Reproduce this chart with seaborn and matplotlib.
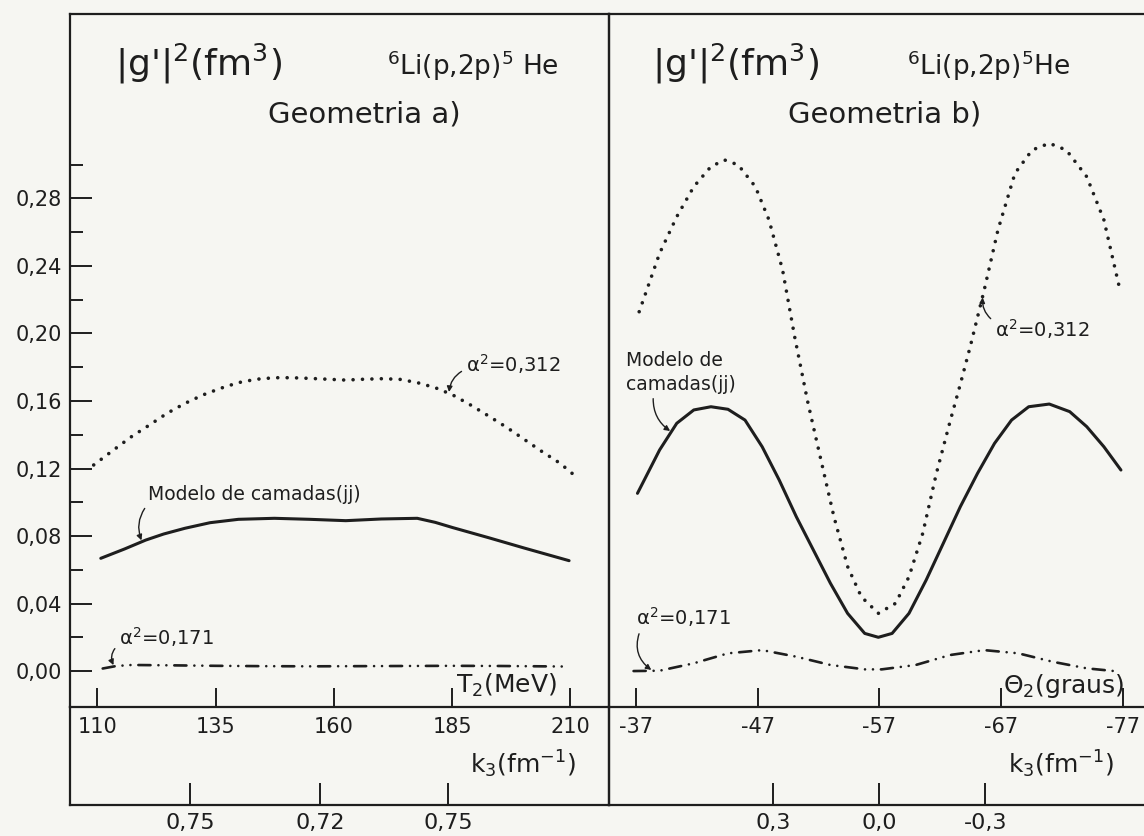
import numpy as np
import pandas as pd
import matplotlib
matplotlib.use("Agg")
import matplotlib.pyplot as plt
import seaborn as sns

# ---------------- data ----------------
# Geometria a) : abscissa T2 (MeV)
t2_dot_a = [109.2, 113.4, 117.2, 121.0, 124.7, 128.5, 132.3, 136.0, 139.8, 143.6, 147.4, 151.1,
            154.9, 158.7, 162.5, 166.3, 170.0, 173.8, 177.6, 181.4, 185.1, 188.9, 192.7, 196.5,
            200.2, 204.0, 207.8, 211.2]
g2_dot_a = [0.1221, 0.1310, 0.1389, 0.1458, 0.1527, 0.1586, 0.1636, 0.1675, 0.1709, 0.1729, 0.1738,
            0.1738, 0.1734, 0.1729, 0.1724, 0.1729, 0.1732, 0.1729, 0.1709, 0.1679, 0.1636, 0.1576,
            0.1511, 0.1444, 0.1373, 0.1300, 0.1231, 0.1151]

t2_solid_a = [110.7, 115.7, 120.2, 124.0, 128.5, 133.8, 139.8, 147.4, 154.9, 162.5, 170.0, 177.6,
              181.4, 185.1, 192.7, 200.2, 209.7]
g2_solid_a = [0.0668, 0.0723, 0.0776, 0.0812, 0.0846, 0.0879, 0.0899, 0.0905, 0.0899, 0.0891,
              0.0901, 0.0905, 0.0881, 0.0850, 0.0790, 0.0729, 0.0654]

t2_dd_a = [111.1, 114.0, 117.2, 125.0, 135.0, 145.0, 155.0, 165.0, 175.0, 185.0, 195.0, 208.5]
g2_dd_a = [0.0015, 0.0030, 0.0036, 0.0034, 0.0031, 0.0029, 0.0028, 0.0029, 0.0030, 0.0031,
           0.0030, 0.0027]

# Geometria b) : abscissa Theta2 (graus)
th_dot_b = [-37.26, -38.94, -40.35, -41.75, -43.16, -44.28, -45.40, -46.81, -47.93, -49.05, -50.04,
            -51.10, -52.14, -53.27, -54.40, -55.52, -56.92, -58.33, -59.44, -60.57, -61.69, -62.82,
            -63.66, -64.50, -65.63, -66.75, -68.15, -69.56, -70.97, -72.37, -74.05, -75.46, -76.72]
g2_dot_b = [0.2129, 0.2475, 0.2692, 0.2870, 0.2989, 0.3028, 0.2999, 0.2870, 0.2673, 0.2376, 0.1981,
            0.1600, 0.1270, 0.0914, 0.0618, 0.0440, 0.0342, 0.0401, 0.0559, 0.0816, 0.1171, 0.1480,
            0.1700, 0.1930, 0.2260, 0.2613, 0.2949, 0.3087, 0.3127, 0.3087, 0.2929, 0.2673, 0.2277]

th_solid_b = [-37.12, -38.94, -40.35, -41.75, -43.16, -44.56, -45.96, -47.37, -48.77, -50.18, -51.58,
              -52.98, -54.39, -55.80, -56.92, -58.05, -59.44, -60.85, -62.26, -63.66, -65.07, -66.47,
              -67.87, -69.28, -70.97, -72.65, -74.05, -75.46, -76.86]
g2_solid_b = [0.1053, 0.1310, 0.1468, 0.1547, 0.1566, 0.1551, 0.1487, 0.1329, 0.1132, 0.0914, 0.0717,
              0.0520, 0.0342, 0.0223, 0.0200, 0.0223, 0.0342, 0.0539, 0.0757, 0.0974, 0.1171, 0.1349,
              0.1487, 0.1566, 0.1582, 0.1537, 0.1448, 0.1329, 0.1191]

th_dd_b = [-36.80, -38.94, -41.75, -44.56, -47.37, -50.18, -52.98, -55.80, -57.20, -60.00, -62.82,
           -65.63, -68.43, -71.25, -74.05, -76.30]
g2_dd_b = [0.0000, 0.0002, 0.0046, 0.0105, 0.0124, 0.0085, 0.0036, 0.0010, 0.0010, 0.0036, 0.0095,
           0.0124, 0.0105, 0.0055, 0.0016, 0.0000]

# ticks
y_major = [0.00, 0.04, 0.08, 0.12, 0.16, 0.20, 0.24, 0.28]
y_major_labels = ["0,00", "0,04", "0,08", "0,12", "0,16", "0,20", "0,24", "0,28"]
y_minor = [0.02, 0.06, 0.10, 0.14, 0.18, 0.22, 0.26, 0.30]
t2_ticks = [110, 135, 160, 185, 210]
t2_labels = ["110", "135", "160", "185", "210"]
k3a_ticks = [129.6, 157.0, 184.2]           # positions on the T2 scale
k3a_labels = ["0,75", "0,72", "0,75"]
th_ticks = [-37, -47, -57, -67, -77]
th_labels = ["-37", "-47", "-57", "-67", "-77"]
k3b_ticks = [-48.3, -57.0, -65.7]          # positions on the Theta2 scale
k3b_labels = ["0,3", "0,0", "-0,3"]

# ---------------- style ----------------
sns.set_style("white")
plt.rcParams["font.family"] = ["DejaVu Sans"]
plt.rcParams["mathtext.default"] = "regular"
INK = "#1e1e1e"
BG = "#f6f6f2"
W, H = 1144, 836

fig = plt.figure(figsize=(W / 100, H / 100), dpi=100, facecolor=BG)


def rect(x0, y0, x1, y1):
    return [x0 / W, 1 - y1 / H, (x1 - x0) / W, (y1 - y0) / H]


axA = fig.add_axes(rect(70, 14, 609, 707))
axB = fig.add_axes(rect(609, 14, 1150, 707))
axA2 = fig.add_axes(rect(70, 707, 609, 805))
axB2 = fig.add_axes(rect(609, 707, 1150, 805))

XL_A = (104.19, 218.14)
XL_B = (-34.78, -79.25)
YL = (-0.0213, 0.3893)

for ax in (axA, axB, axA2, axB2):
    ax.set_facecolor(BG)
    for s in ax.spines.values():
        s.set_color(INK)
        s.set_linewidth(1.6)
    ax.patch.set_alpha(0)

DOT = (0, (0.01, 2.6))
DASHDOT2 = (0, (4.6, 3.0, 0.01, 3.0, 0.01, 3.0))


def draw(ax, x, y, style, lw):
    df = pd.DataFrame({"x": x, "y": y})
    sns.lineplot(data=df, x="x", y="y", ax=ax, color=INK, lw=lw, linestyle=style,
                 dash_capstyle="round", solid_capstyle="round", sort=False,
                 errorbar=None, estimator=None)


draw(axA, t2_dot_a, g2_dot_a, DOT, 2.6)
draw(axA, t2_solid_a, g2_solid_a, "-", 2.2)
draw(axA, t2_dd_a, g2_dd_a, DASHDOT2, 1.9)
draw(axB, th_dot_b, g2_dot_b, DOT, 2.6)
draw(axB, th_solid_b, g2_solid_b, "-", 2.2)
draw(axB, th_dd_b, g2_dd_b, DASHDOT2, 1.9)

# main axes
for ax, xl, ticks, labels in ((axA, XL_A, t2_ticks, t2_labels), (axB, XL_B, th_ticks, th_labels)):
    ax.set_xlim(*xl)
    ax.set_ylim(*YL)
    ax.set_xlabel("")
    ax.set_ylabel("")
    ax.set_xticks(ticks)
    ax.set_xticklabels(labels)
    ax.tick_params(axis="x", direction="in", length=14, width=1.4, color=INK, pad=7,
                   labelsize=15, labelcolor=INK, bottom=True)

axA.set_yticks(y_major)
axA.set_yticklabels(y_major_labels)
axA.set_yticks(y_minor, minor=True)
axA.tick_params(axis="y", which="major", direction="in", length=16, width=1.4, color=INK,
                pad=5.8, labelsize=15, labelcolor=INK, left=True)
axA.tick_params(axis="y", which="minor", direction="in", length=9, width=1.4, color=INK, left=True)
axB.set_yticks([])

# lower strips (k3 scales)
for ax, xl, ticks, labels in ((axA2, XL_A, k3a_ticks, k3a_labels), (axB2, XL_B, k3b_ticks, k3b_labels)):
    ax.set_xlim(*xl)
    ax.set_ylim(0, 1)
    ax.set_yticks([])
    ax.set_xticks(ticks)
    ax.set_xticklabels(labels)
    ax.tick_params(axis="x", direction="in", length=16, width=1.4, color=INK, pad=5.8,
                   labelsize=16, labelcolor=INK, bottom=True)
    ax.spines["top"].set_visible(False)

# ---------------- texts ----------------
def ftext(x, y, s, size, ha="left"):
    fig.text(x / W, 1 - y / H, s, fontsize=size, color=INK, ha=ha, va="baseline")


ftext(115, 75, "|g'|$^2$(fm$^3$)", 26)
ftext(387, 75, "$^6$Li(p,2p)$^5$ He", 19)
ftext(364, 123, "Geometria a)", 21, ha="center")
ftext(652, 75, "|g'|$^2$(fm$^3$)", 26)
ftext(907, 75, "$^6$Li(p,2p)$^5$He", 19)
ftext(885, 123, "Geometria b)", 21, ha="center")

ftext(456, 693, "T$_2$(MeV)", 18)
ftext(470, 773, "k$_3$(fm$^{-1}$)", 18)
ftext(1003, 693, "Θ$_2$(graus)", 18)
ftext(1008, 773, "k$_3$(fm$^{-1}$)", 18)


def ann(ax, text, xs, ys, x_at, pos_px, rad, relpos, fs=14, va="baseline"):
    xs_ = np.asarray(xs)
    ys_ = np.asarray(ys)
    order = np.argsort(xs_)
    y_at = float(np.interp(x_at, xs_[order], ys_[order]))
    ax.annotate(text, xy=(x_at, y_at), xycoords="data",
                xytext=(pos_px[0], H - pos_px[1]), textcoords="figure pixels",
                fontsize=fs, color=INK, ha="left", va=va, linespacing=1.35,
                arrowprops=dict(arrowstyle="-|>", color=INK, lw=1.0, mutation_scale=8,
                                shrinkA=1, shrinkB=1, relpos=relpos,
                                connectionstyle=f"arc3,rad={rad}"))


ann(axA, "α$^2$=0,312", t2_dot_a, g2_dot_a, 184.3, (466, 372), 0.3, (0.0, 0.3))
ann(axA, "Modelo de camadas(jj)", t2_solid_a, g2_solid_a, 119.4, (148, 500), 0.3, (0.0, 0.0), fs=13.5)
ann(axA, "α$^2$=0,171", t2_dd_a, g2_dd_a, 113.5, (119, 645), 0.4, (0.0, 0.2))
ann(axB, "α$^2$=0,312", th_dot_b, g2_dot_b, -65.5, (995, 337), -0.3, (0.0, 0.8))
ann(axB, "Modelo de\ncamadas(jj)", th_solid_b, g2_solid_b, -39.9, (626, 394), 0.3, (0.25, 0.0),
    fs=13.5, va="bottom")
ann(axB, "α$^2$=0,171", th_dd_b, g2_dd_b, -38.35, (636, 625), 0.4, (0.05, 0.0))

fig.savefig("out.png", dpi=100, facecolor=BG)
